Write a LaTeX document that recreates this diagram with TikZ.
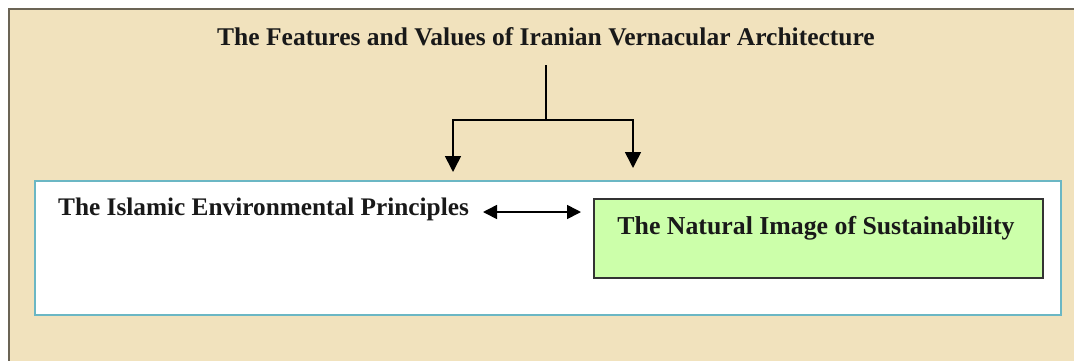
\documentclass[tikz,border=0pt]{standalone}
\usepackage{fontspec}
\setmainfont{Liberation Serif}
\usetikzlibrary{arrows.meta}
\definecolor{beige}{HTML}{F1E2BD}
\definecolor{teal}{HTML}{6BB7C4}
\definecolor{lgreen}{HTML}{CCFFAA}
\definecolor{frame}{HTML}{6B6455}
\tikzset{
  lbl/.style={font=\bfseries\fontsize{25.5}{30}\selectfont, inner sep=0pt, text=black!90},
  conn/.style={line width=1.6pt, -{Triangle[length=16pt,width=16pt]}},
  dconn/.style={line width=1.6pt, {Triangle[length=14pt,width=14pt]}-{Triangle[length=14pt,width=14pt]}},
}
\begin{document}
\begin{tikzpicture}[x=1pt,y=-1pt]
\useasboundingbox (0,0) rectangle (1074,360);
\fill[white] (0,0) rectangle (1074,360);
\draw[fill=beige, draw=frame, line width=1.5pt] (9,9) rectangle (1080,370);
\draw[fill=white, draw=teal, line width=2pt] (35,181) rectangle (1061,315);
\node[draw=black!80, fill=lgreen, line width=1.6pt, minimum width=449pt, minimum height=79pt, anchor=north west, inner sep=0pt] (green) at (593,198) {};
\node[lbl] (title) at (546,37) {The Features and Values of Iranian Vernacular Architecture};
\node[lbl, anchor=west, font=\bfseries\fontsize{25.3}{30}\selectfont] (isl) at (58,209) {The Islamic Environmental Principles};
\node[lbl, font=\bfseries\fontsize{25.8}{30}\selectfont] (nat) at (816,228) {The Natural Image of Sustainability};
\coordinate (top) at (546,65);
\coordinate (mid) at (546,120);
\coordinate (lt) at (453,172);
\coordinate (rt) at (633,168);
\coordinate (da) at (483,212);
\coordinate (db) at (581,212);
\draw[line width=1.6pt] (top) -- (mid);
\draw[conn] (mid) -| (lt);
\draw[conn] (mid) -| (rt);
\draw[dconn] (da) -- (db);
\end{tikzpicture}
\end{document}
